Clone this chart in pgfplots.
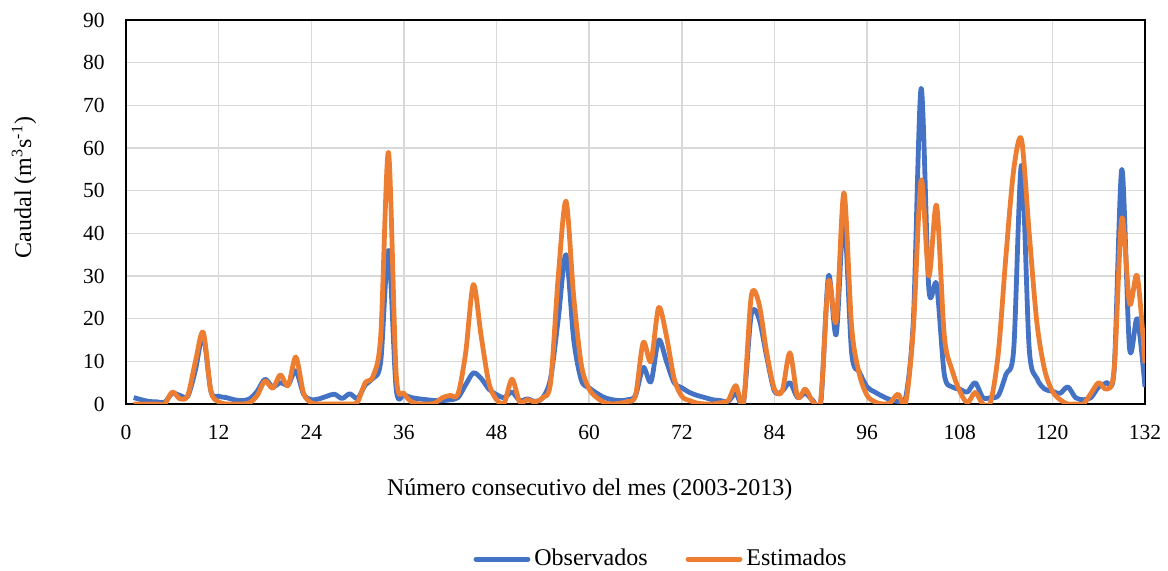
\documentclass[border=0pt]{standalone}
\usepackage{pgfplots}
\pgfplotsset{compat=1.18}
\usepackage{pgfplotstable}
\usepackage{fontspec}
\setmainfont{Liberation Serif}
\definecolor{obs}{HTML}{4472C4}
\definecolor{est}{HTML}{ED7D31}
\definecolor{gridc}{HTML}{D9D9D9}
\pgfplotstableread{
m obs est
1 1.5 0
2 1.0 0
3 0.6 0
4 0.5 0
5 0.4 0
6 2.5 2.8
7 2.0 1.2
8 1.8 2
9 8 10
10 16 16.8
11 3 3
12 1.8 0.5
13 1.5 0
14 1.0 0
15 0.8 0
16 1.2 0.3
17 3 2
18 5.8 5.4
19 4 3.7
20 5 6.8
21 4.5 4.3
22 7.8 11
23 2.3 2.5
24 1.0 0.3
25 1.2 0
26 1.8 0
27 2.3 0
28 1.3 0
29 2.4 0
30 1.3 0.5
31 4.5 5
32 6 6.5
33 10 16
34 36 59
35 3.5 7
36 2.2 2.5
37 1.5 0.5
38 1.2 0
39 1.0 0
40 0.8 0.2
41 0.8 1.5
42 1.0 2
43 1.5 2.3
44 4.5 12
45 7.3 28
46 6 16
47 3.5 5
48 2.2 1
49 1.5 0.3
50 2.8 5.8
51 0.8 0.5
52 1.2 1
53 0.6 0.5
54 1.5 1.5
55 6 5
56 20 30
57 35 47.5
58 15 25
59 5.5 9
60 3.8 3.5
61 2.5 1.5
62 1.5 0.3
63 1.0 0
64 0.8 0.2
65 1.0 0.6
66 2 2
67 8.6 14.4
68 5.2 10
69 15 22.6
70 10 16
71 5 6
72 3.8 1.8
73 2.7 0.8
74 2.0 0.2
75 1.5 0
76 1.0 0
77 0.8 0.3
78 0.6 0.8
79 2.5 4.3
80 0.5 0.5
81 21 25.3
82 20 23.5
83 11 12
84 3 3.5
85 3 3
86 5 12
87 1.5 1.6
88 2.5 3.5
89 0.8 0.5
90 0.2 1
91 30 28.7
92 16.3 19.4
93 44 49.5
94 12 18
95 7.5 7
96 4.0 2
97 2.8 0.5
98 1.8 0
99 1.0 0.3
100 0.6 2.3
101 1.5 0.3
102 20 18
103 74 52.5
104 27 30
105 28 46.5
106 7 16
107 4 8
108 3.5 3
109 2.8 0.3
110 5 2.7
111 1.5 0
112 1.5 0.5
113 2 12
114 7 35
115 13 55
116 56 62
117 13 40
118 6 19
119 3.5 8
120 3 3
121 2.5 1
122 4 0
123 1.5 0
124 1 0
125 1.5 2.5
126 4 5
127 5 3.5
128 8 8
129 55 43.5
130 13 23.5
131 20 30
132 4 9.5
}\datatable
\begin{document}
\fontsize{12}{14}\selectfont
\begin{tikzpicture}
\begin{axis}[
  at={(0,0)}, anchor=south west,
  scale only axis, width=509.5pt, height=192pt,
  xmin=0, xmax=132, ymin=0, ymax=90,
  xtick={0,12,...,132}, ytick={0,10,...,90},
  major tick length=0pt,
  grid=major,
  major grid style={gridc, line width=0.75pt},
  axis line style={black, line width=1pt},
  /pgf/number format/assume math mode=true,
  tick label style={font=\fontsize{10.75}{13}\selectfont},
  yticklabel style={anchor=east, inner sep=0pt, xshift=-10.5pt},
  xticklabel style={anchor=north, inner sep=0pt, yshift=-10.5pt},
  xlabel={Número consecutivo del mes (2003-2013)},
  xlabel style={at={(axis description cs:0.455,-0.224)}, anchor=center, inner sep=0pt, font=\fontsize{12}{14}\selectfont},
  ylabel={Caudal (m\textsuperscript{3}s\textsuperscript{-1})},
  ylabel style={at={(axis description cs:-0.100,0.564)}, anchor=center, rotate=0, inner sep=0pt, font=\fontsize{12}{14}\selectfont},
  legend columns=2,
  legend style={at={(0.526,-0.404)}, anchor=center, draw=none, fill=none,
    font=\fontsize{12}{14}\selectfont,
    /tikz/every even column/.append style={column sep=17pt}},
  legend image code/.code={\draw[#1, line width=2.4pt, line cap=round] (0pt,0pt) -- (26pt,0pt);},
  clip=true,
]
\addplot[obs, line width=2.4pt, smooth, tension=0.5, line join=round] table[x=m, y=obs] {\datatable};
\addlegendentry{Observados}
\addplot[est, line width=2.4pt, smooth, tension=0.5, line join=round] table[x=m, y=est] {\datatable};
\addlegendentry{Estimados}
\end{axis}
\pgfresetboundingbox
\path (-63pt,-83.5pt) rectangle (521pt,202pt);
\end{tikzpicture}
\end{document}
